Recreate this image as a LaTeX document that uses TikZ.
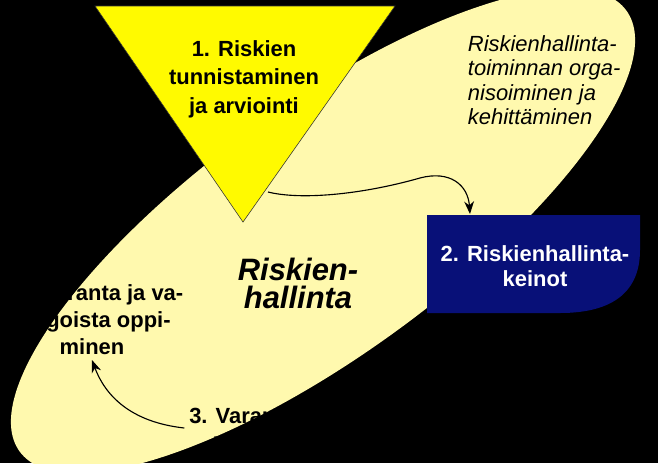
\documentclass[tikz,border=0pt]{standalone}
\usepackage{fontspec}
\setmainfont{Liberation Sans}
\usetikzlibrary{arrows.meta}
\definecolor{vaaleankeltainen}{RGB}{255,249,174}
\definecolor{keltainen}{RGB}{255,250,0}
\definecolor{tummansininen}{RGB}{8,16,120}

\begin{document}
\begin{tikzpicture}[x=0.025cm, y=-0.025cm,
    lihava/.style={font=\bfseries\fontsize{15.6}{#1}\selectfont, align=center},
    kursiivi/.style={font=\itshape\fontsize{15.6}{#1}\selectfont, align=left},
    nuoli/.style={thick, -{Stealth[length=9pt, width=7pt]}}]
    % Tausta
    \useasboundingbox (0,0) rectangle (658,463);
    \fill[black] (0,0) rectangle (658,463);

    % Ellipsi
    \fill[vaaleankeltainen, rotate around={36:(323,231)}] (323,231) ellipse [x radius=375, y radius=124];

    % Kolmio: riskien tunnistaminen
    \filldraw[fill=keltainen, draw=black!80, thin] (95,6) -- (395,6) -- (243,222) -- cycle;
    \node[lihava=20.3] (tunnistus) at (244,79) {1. Riskien\\tunnistaminen\\ja arviointi};

    % Laatikko: riskienhallintakeinot
    \fill[tummansininen] (427,215) -- (640,215) -- (640,250) .. controls (640,290) and (615,313) .. (560,313) -- (427,313) -- cycle;
    \node[lihava=18, text=white] (keinot) at (535,266) {2. Riskienhallinta-\\keinot};

    % Tekstit
    \node[kursiivi=17.3, anchor=west] (organisointi) at (463,80) {Riskienhallinta-\\toiminnan orga-\\nisoiminen ja\\kehittäminen};
    \node[font=\bfseries\itshape\fontsize{22}{20}\selectfont, align=center] (keskus) at (298,283) {Riskien-\\hallinta};
    \node[lihava=19.2] (seuranta) at (92,320) {4. Seuranta ja va-\\hingoista oppi-\\minen};
    \node[lihava=17.8] (varautuminen) at (275,428) {3. Varautuminen\\vahinkoihin};
    \node[kursiivi=20.6, anchor=west] (keinolista) at (430,378) {\textbullet\ Riskin välttäminen\\\textbullet\ Riskin pienentäminen\\\textbullet\ Riskin siirtäminen\\\textbullet\ Riskin pitäminen};

    % Nuolet
    \coordinate (kolmioreuna) at (268,192);
    \coordinate (laatikko) at (470,214);
    \draw[nuoli] (kolmioreuna) .. controls (300,200) and (360,195) .. (420,178) .. controls (450,170) and (468,185) .. (laatikko);
    \draw[nuoli] (varautuminen.west) .. controls (130,422) and (105,395) .. (seuranta.south);
\end{tikzpicture}
\end{document}
